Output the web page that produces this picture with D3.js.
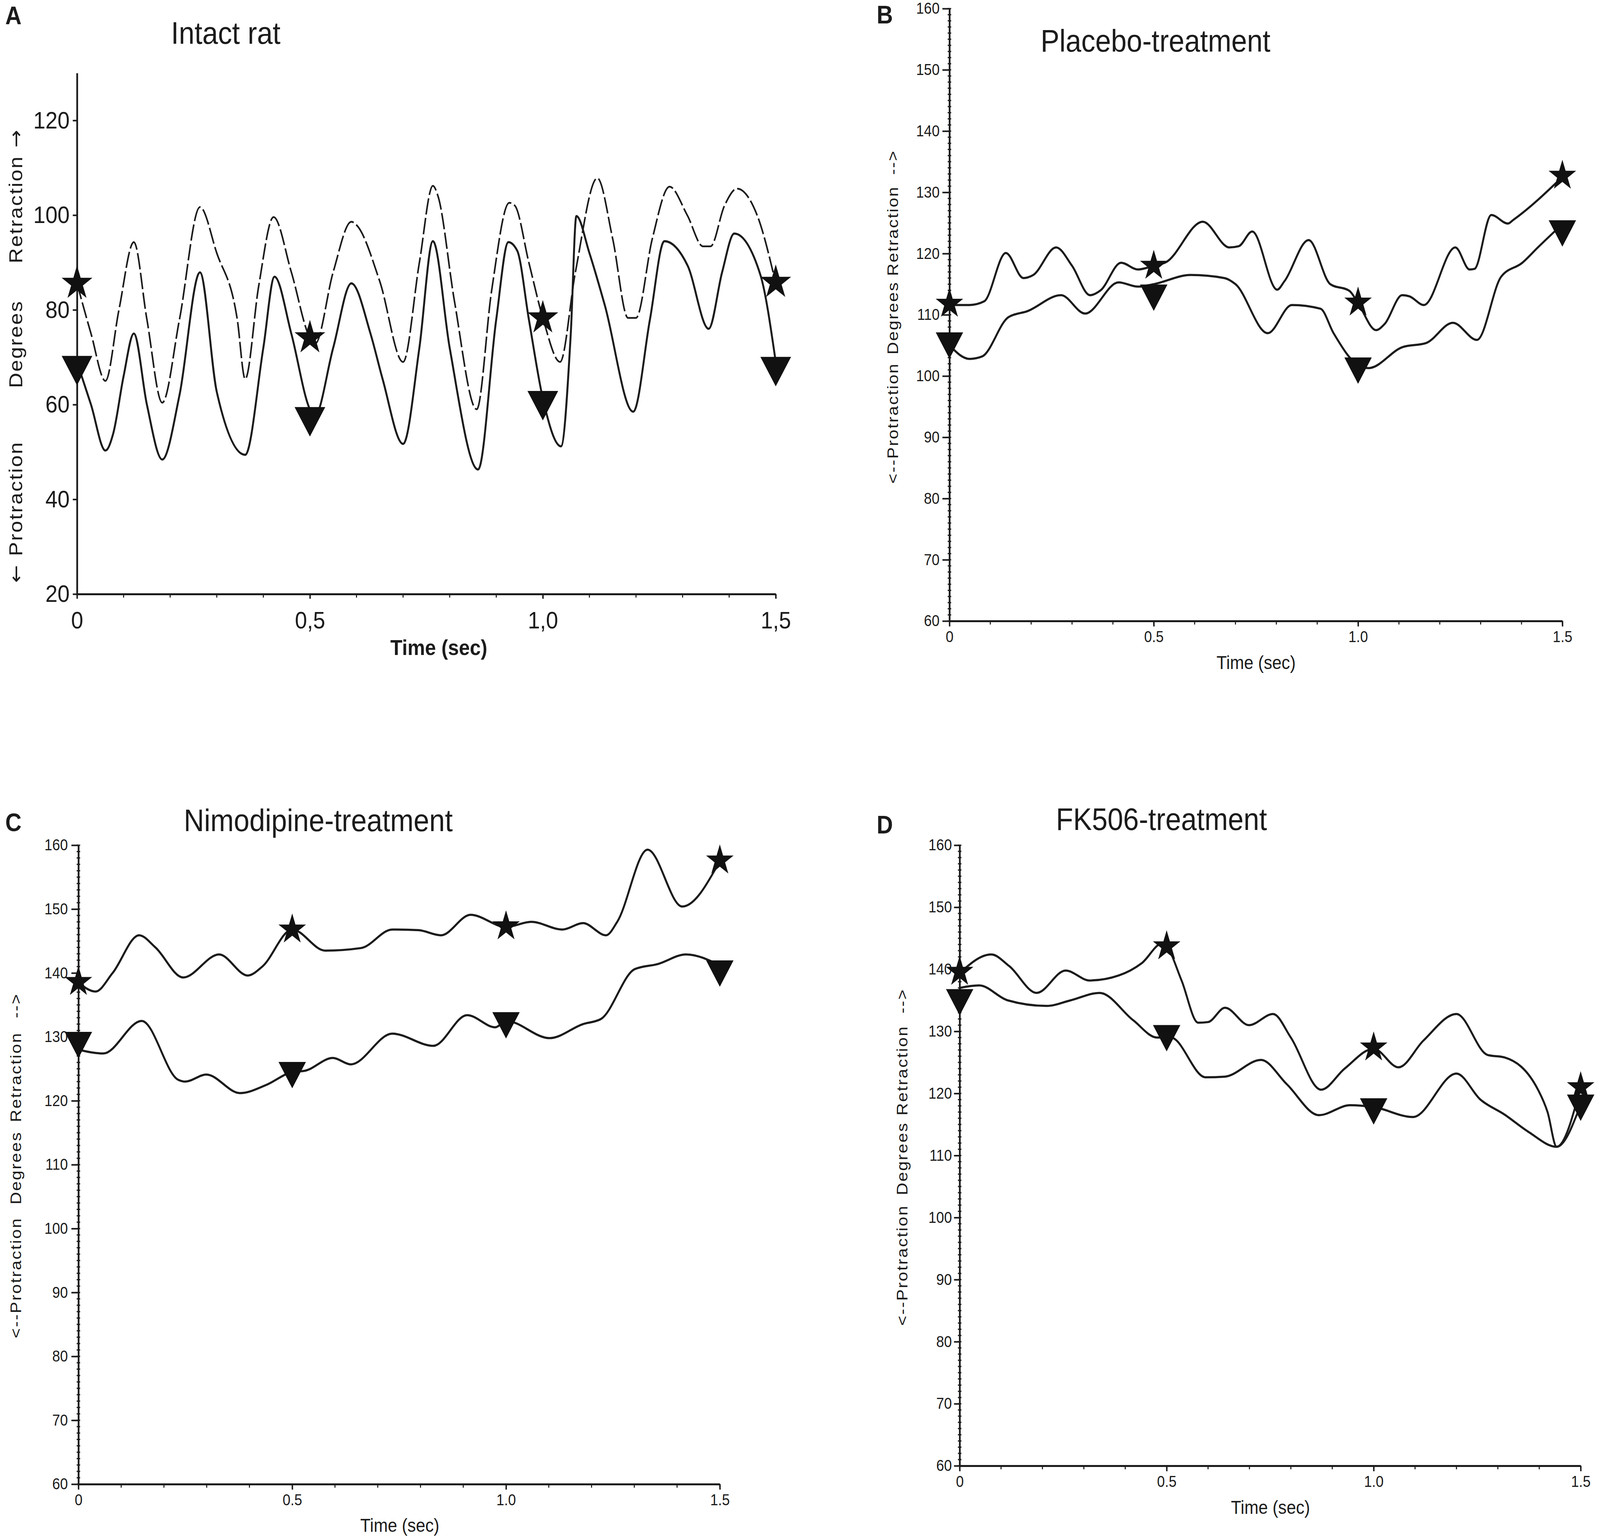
<!DOCTYPE html>
<html>
<head>
<meta charset="utf-8">
<script src="https://cdn.jsdelivr.net/npm/d3@7"></script>
<style>
  html, body { margin: 0; padding: 0; background: #fff; overflow: hidden; }
  .chart svg { display: block; }
  text { font-family: "Liberation Sans", Arial, sans-serif; fill: #1b1b1b; }
</style>
</head>
<body>
<div class="chart"></div>
<script>
// ---- data (time in sec, angle in degrees) ----
const markerTimes = [0, 0.5, 1.0, 1.5];

// A: intact rat
const aUpperT = [0,0.03,0.061,0.09,0.122,0.15,0.183,0.22,0.264,0.3,0.344,0.361,0.39,0.422,0.46,0.5,0.511,0.55,0.589,0.6,0.65,0.7,0.735,0.764,0.775,0.81,0.858,0.89,0.928,0.94,0.97,1.0,1.037,1.07,1.117,1.15,1.183,1.2,1.235,1.272,1.31,1.344,1.36,1.39,1.417,1.46,1.5];
const aUpperV = [85.6,75,65,80,94.3,78,60.4,78,101.7,92,78,65.4,85,99.6,88,74.1,72.8,88,98.6,97.9,86,69,90,106.2,104,82,59,84,102.6,102,90,78.3,69,88,107.8,95,78.3,78.3,95,106,100,93.4,93.4,102,105.6,100,85.6];
const aLowerT = [0,0.03,0.061,0.078,0.1,0.122,0.15,0.183,0.22,0.264,0.3,0.361,0.4,0.424,0.46,0.5,0.51,0.55,0.589,0.63,0.656,0.7,0.735,0.764,0.8,0.861,0.9,0.926,0.945,0.97,1.0,1.039,1.06,1.072,1.1,1.133,1.194,1.23,1.261,1.311,1.356,1.385,1.411,1.467,1.5];
const aLowerV = [69,60,50.3,54,66,75,60,48.4,62,87.9,62.7,49.4,72,87,75,59,57.5,72,85.6,75,65.4,51.7,72,94.5,72,46.3,78,94.3,92.5,78,61.3,51.2,75,99.8,92,81,58.5,78,94.5,89.3,76,88,96.1,87.4,69];
const aStars = [85.6, 74.1, 78.3, 85.8];
const aTriangles = [68.2, 57.4, 60.8, 68];

// B: placebo
const bUpperT = [0,0.049,0.085,0.138,0.181,0.205,0.261,0.3,0.344,0.37,0.42,0.461,0.5,0.53,0.62,0.685,0.708,0.741,0.802,0.82,0.879,0.932,0.979,1.0,1.044,1.065,1.108,1.126,1.161,1.238,1.273,1.285,1.326,1.367,1.38,1.5];
const bUpperV = [111.6,111.6,112.2,120.1,116,116.5,121,118,113.2,114,118.5,117.4,118,118.6,125.2,121,121.2,123.6,114.1,115.5,122.2,115,113.9,111.9,107.5,108.5,113.2,113,111.6,121,117.4,117.5,126.3,124.9,125.5,132.5];
const bLowerT = [0,0.049,0.08,0.144,0.191,0.273,0.332,0.414,0.461,0.5,0.59,0.673,0.7,0.779,0.838,0.908,0.94,1.0,1.026,1.108,1.167,1.232,1.291,1.35,1.402,1.44,1.5];
const bLowerV = [105,102.8,103.2,109.6,110.6,113.2,110.2,115.3,114.6,115,116.5,116,115,107,111.6,111,107,101.8,101.3,104.7,105.4,108.7,105.9,116.2,118.5,121,124.8];
const bStars = [111.8, 118, 112, 132.7];
const bTriangles = [105.7, 113.5, 101.6, 124];

// C: nimodipine
const cUpperT = [0,0.04,0.08,0.142,0.18,0.245,0.329,0.396,0.43,0.5,0.577,0.661,0.734,0.795,0.848,0.917,1.0,1.059,1.132,1.18,1.234,1.26,1.331,1.412,1.5];
const cUpperV = [138.5,137.1,140,145.9,144,139.3,142.9,139.6,141,146.8,143.5,143.9,146.8,146.7,145.9,149.1,147.2,148,146.8,147.8,145.9,148,159.3,150.4,157.5];
const cLowerT = [0,0.058,0.148,0.233,0.25,0.299,0.378,0.44,0.5,0.53,0.595,0.637,0.734,0.83,0.909,0.975,1.0,1.102,1.18,1.222,1.301,1.355,1.421,1.5];
const cLowerV = [128,127.4,132.5,123.3,123,124.1,121.2,122.5,124.5,124.7,126.7,125.7,130.5,128.6,133.4,131.5,132.5,129.8,132,132.8,140.6,141.4,142.9,141.2];
const cStars = [138.6, 146.8, 147.3, 157.6];
const cTriangles = [129.4, 124.7, 132.5, 140.6];

// D: FK506
const dUpperT = [0,0.076,0.12,0.186,0.256,0.314,0.384,0.44,0.49,0.5,0.536,0.576,0.6,0.641,0.699,0.757,0.8,0.873,0.93,1.0,1.06,1.12,1.2,1.275,1.316,1.397,1.42,1.442,1.5];
const dUpperV = [139.4,142.4,140.5,136.2,139.8,138.2,139,141,144.2,143.7,138.2,131.4,131.5,133.8,131,132.8,129,120.6,124,127.2,124.2,128.5,132.8,126.2,125.8,120.6,117,111.4,121];
const dLowerT = [0,0.047,0.116,0.21,0.268,0.338,0.419,0.477,0.51,0.594,0.64,0.728,0.79,0.868,0.943,1.0,1.095,1.2,1.258,1.316,1.374,1.442,1.5];
const dLowerV = [137,137.4,135,134.1,135,136.2,131.8,129,129,122.6,122.7,125.4,121.5,116.5,118.1,117.8,116.2,123.2,119,116.6,113.8,111.4,118.2];
const dStars = [139.6, 143.7, 127.4, 121];
const dTriangles = [135.4, 129.6, 117.8, 118.4];

const titles = ["Intact rat", "Placebo-treatment", "Nimodipine-treatment", "FK506-treatment"];
const letters = ["A", "B", "C", "D"];
const xTickLabelsA = ["0", "0,5", "1,0", "1,5"];
const xTickLabels = ["0", "0.5", "1.0", "1.5"];
const yTicksA = [20, 40, 60, 80, 100, 120];
const yTicks = [60, 70, 80, 90, 100, 110, 120, 130, 140, 150, 160];
// panel A label: [arrow before, word, arrow after]
const yLabelA = [["\u2190", "Protraction", ""], ["", "Degrees", ""], ["", "Retraction", "\u2192"]];
const yLabel = [["", "<--Protraction", ""], ["", "Degrees", ""], ["", "Retraction", ""], ["", "-->", ""]];

// ---- layout ----
const W = 4550, H = 3943;
// stretch to whatever the window gives, so the layout keeps the reference proportions
const svg = d3.select('.chart').append('svg')
  .attr('viewBox', `0 0 ${W} ${H}`)
  .attr('preserveAspectRatio', 'none')
  .attr('width', '100vw').attr('height', '100vh');

const panels = [
  { upper: [aUpperT, aUpperV], lower: [aLowerT, aLowerV], stars: aStars, tris: aTriangles,
    left: 219, right: 2206, top: 187, bottom: 1521, yDomain: [20, 130], yTicks: yTicksA,
    xLabels: xTickLabelsA, tickFont: 62, yTickSize: 12, yPad: 9, xTickSize: 12, xPad: 32,
    yMinor: null, dashed: true, curve: d3.curveMonotoneX, mk: 1.12,
    title: titles[0], titleX: 642, titleY: 112, letter: letters[0], letterX: 15, letterY: 62,
    timeX: 1248, timeY: 1677, timeBold: true, timeFont: 56,
    yLab: yLabelA, yLabX: 44, yLabY: [1311, 881, 502], yLabFont: 54 },
  { upper: [bUpperT, bUpperV], lower: [bLowerT, bLowerV], stars: bStars, tris: bTriangles,
    left: 2700, right: 4443, top: 22, bottom: 1590, yDomain: [60, 160], yTicks: yTicks,
    xLabels: xTickLabels, tickFont: 40, yTickSize: 20, yPad: 8, xTickSize: 14, xPad: 12,
    yMinor: 1, dashed: false, curve: d3.curveMonotoneX, mk: 1,
    title: titles[1], titleX: 3286, titleY: 132, letter: letters[1], letterX: 2493, letterY: 60,
    timeX: 3572, timeY: 1713, timeBold: false, timeFont: 48,
    yLab: yLabel, yLabX: 2538, yLabFrac: [0.677, 0.505, 0.363, 0.251], yLabFont: 44 },
  { upper: [cUpperT, cUpperV], lower: [cLowerT, cLowerV], stars: cStars, tris: cTriangles,
    left: 223, right: 2047, top: 2164, bottom: 3800, yDomain: [60, 160], yTicks: yTicks,
    xLabels: xTickLabels, tickFont: 40, yTickSize: 20, yPad: 10, xTickSize: 14, xPad: 12,
    yMinor: 1, dashed: false, curve: d3.curveMonotoneX, mk: 1,
    title: titles[2], titleX: 905, titleY: 2128, letter: letters[2], letterX: 15, letterY: 2128,
    timeX: 1137, timeY: 3922, timeBold: false, timeFont: 48,
    yLab: yLabel, yLabX: 44, yLabFrac: [0.677, 0.505, 0.363, 0.251], yLabFont: 44 },
  { upper: [dUpperT, dUpperV], lower: [dLowerT, dLowerV], stars: dStars, tris: dTriangles,
    left: 2729, right: 4495, top: 2164, bottom: 3753, yDomain: [60, 160], yTicks: yTicks,
    xLabels: xTickLabels, tickFont: 40, yTickSize: 16, yPad: 6, xTickSize: 14, xPad: 12,
    yMinor: 1, dashed: false, curve: d3.curveMonotoneX, mk: 1,
    title: titles[3], titleX: 3303, titleY: 2125, letter: letters[3], letterX: 2493, letterY: 2134,
    timeX: 3613, timeY: 3876, timeBold: false, timeFont: 48,
    yLab: yLabel, yLabX: 2565, yLabFrac: [0.677, 0.505, 0.363, 0.251], yLabFont: 44 }
];

const ink = '#1b1b1b';

function drawPanel(p) {
  const g = svg.append('g');
  const x = d3.scaleLinear().domain([0, 1.5]).range([p.left, p.right]);
  const y = d3.scaleLinear().domain(p.yDomain).range([p.bottom, p.top]);

  // minor ticks on y axis (crossing the axis line)
  if (p.yMinor) {
    g.append('g').selectAll('line')
      .data(d3.range(p.yDomain[0], p.yDomain[1] + 0.001, p.yMinor))
      .join('line')
      .attr('x1', p.left - 5).attr('x2', p.left + 5)
      .attr('y1', d => y(d)).attr('y2', d => y(d))
      .attr('stroke', ink).attr('stroke-width', 3);
  }
  // minor ticks on x axis every 0.1 s
  g.append('g').selectAll('line')
    .data(d3.range(0, 1.5001, 0.1))
    .join('line')
    .attr('x1', d => x(d)).attr('x2', d => x(d))
    .attr('y1', p.bottom).attr('y2', p.bottom + 9)
    .attr('stroke', ink).attr('stroke-width', 3);

  const yAxis = d3.axisLeft(y)
    .tickValues(p.yTicks)
    .tickFormat(d3.format('d'))
    .tickSizeInner(p.yTickSize).tickSizeOuter(0)
    .tickPadding(p.yPad);
  const ya = g.append('g')
    .attr('transform', `translate(${p.left},0)`)
    .call(yAxis);

  const xAxis = d3.axisBottom(x)
    .tickValues(markerTimes)
    .tickFormat((d, i) => p.xLabels[i])
    .tickSizeInner(p.xTickSize).tickSizeOuter(0)
    .tickPadding(p.xPad);
  const xa = g.append('g')
    .attr('transform', `translate(0,${p.bottom})`)
    .call(xAxis);

  [ya, xa].forEach(a => {
    a.attr('font-size', p.tickFont).attr('font-family', '"Liberation Sans", Arial, sans-serif');
    a.select('.domain').attr('stroke', ink).attr('stroke-width', 5);
    a.selectAll('.tick line').attr('stroke', ink).attr('stroke-width', 4);
    a.selectAll('.tick text').attr('fill', ink);
  });

  // traces
  const line = d3.line()
    .x(d => x(d[0])).y(d => y(d[1]))
    .curve(p.curve);
  const upper = p.upper[0].map((t, i) => [t, p.upper[1][i]]);
  const lower = p.lower[0].map((t, i) => [t, p.lower[1][i]]);

  g.append('path').datum(upper)
    .attr('d', line).attr('fill', 'none')
    .attr('stroke', ink).attr('stroke-width', p.dashed ? 4.5 : 5.5)
    .attr('stroke-linejoin', 'round')
    .attr('stroke-dasharray', p.dashed ? '42,9' : null);
  g.append('path').datum(lower)
    .attr('d', line).attr('fill', 'none')
    .attr('stroke', ink).attr('stroke-width', 5.5)
    .attr('stroke-linejoin', 'round');

  // markers
  const star = d3.symbol().type(d3.symbolStar).size(1900 * p.mk * p.mk);
  const tri = d3.symbol().type(d3.symbolTriangle).size(2630 * p.mk * p.mk);
  g.append('g').selectAll('path')
    .data(markerTimes.map((t, i) => [t, p.tris[i]]))
    .join('path')
    .attr('d', tri)
    .attr('transform', d => `translate(${x(d[0])},${y(d[1])}) rotate(180)`)
    .attr('fill', '#111');
  g.append('g').selectAll('path')
    .data(markerTimes.map((t, i) => [t, p.stars[i]]))
    .join('path')
    .attr('d', star)
    .attr('transform', d => `translate(${x(d[0])},${y(d[1])})`)
    .attr('fill', '#111');

  // texts
  g.append('text')
    .attr('x', p.titleX).attr('y', p.titleY)
    .attr('text-anchor', 'middle')
    .attr('font-size', 80)
    .text(p.title);
  g.append('text')
    .attr('x', p.letterX).attr('y', p.letterY)
    .attr('font-size', 64).attr('font-weight', 'bold')
    .text(p.letter);
  g.append('text')
    .attr('x', p.timeX).attr('y', p.timeY)
    .attr('text-anchor', 'middle')
    .attr('font-size', p.timeFont)
    .attr('font-weight', p.timeBold ? 'bold' : 'normal')
    .text('Time (sec)');

  const labY = p.yLabY ? p.yLabY : p.yLabFrac.map(f => p.top + f * (p.bottom - p.top));
  const labs = g.append('g').selectAll('text')
    .data(p.yLab)
    .join('text')
    .attr('transform', (d, i) => `translate(${p.yLabX},${labY[i]}) rotate(-90)`)
    .attr('text-anchor', 'middle')
    .attr('dominant-baseline', 'central')
    .attr('font-size', p.yLabFont)
    .attr('letter-spacing', 3);
  labs.each(function(d) {
    const t = d3.select(this);
    if (d[0]) t.append('tspan').attr('font-family', '"DejaVu Sans", sans-serif').text(d[0] + ' ');
    t.append('tspan').text(d[1]);
    if (d[2]) t.append('tspan').attr('font-family', '"DejaVu Sans", sans-serif').text(' ' + d[2]);
  });
}

panels.forEach(drawPanel);
</script>
</body>
</html>
